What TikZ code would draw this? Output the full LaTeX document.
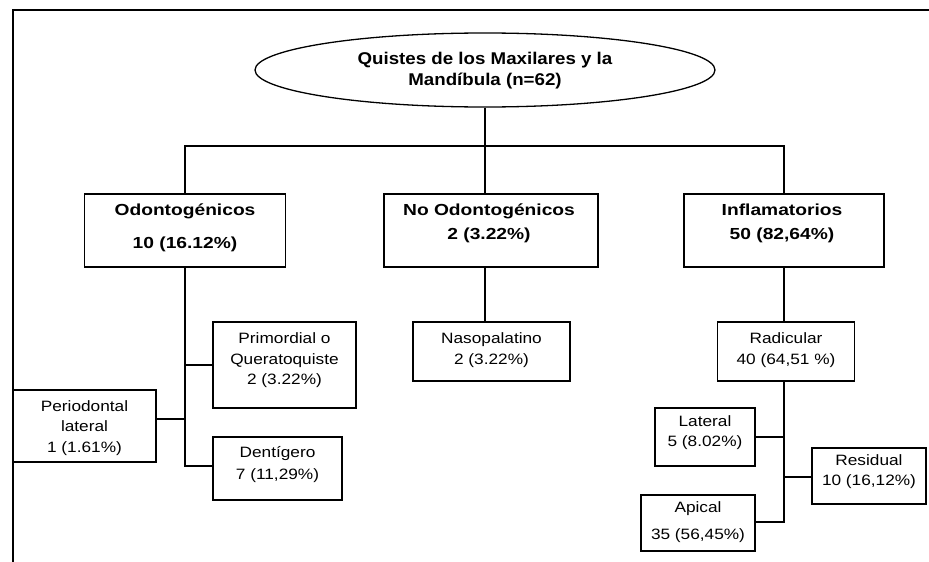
\documentclass[tikz,border=0pt]{standalone}
\usepackage{fontspec}
\setmainfont{Liberation Sans}[FakeStretch=1.15]
\newfontfamily\titlefont{Liberation Sans}[FakeStretch=1.1]
\newfontfamily\headfont{Liberation Sans}[FakeStretch=1.2]
\usetikzlibrary{shapes.geometric}
\tikzset{
  frameline/.style={line width=2.4pt, black},
  conn/.style={line width=1.3pt, black},
  boxnode/.style={draw=black, line width=1.3pt, rectangle, inner sep=0pt, fill=white},
  headtxt/.style={align=center, inner sep=0pt, font=\headfont\bfseries\fontsize{16}{24}\selectfont},
  regtxt/.style={align=center, inner sep=0pt, font=\fontsize{15}{20.5}\selectfont},
  titletxt/.style={align=center, inner sep=0pt, font=\titlefont\bfseries\fontsize{17}{21}\selectfont}
}
\begin{document}
\begin{tikzpicture}[x=1pt,y=-1pt]
\useasboundingbox (0,0) rectangle (929,562);
\fill[white] (0,0) rectangle (929,562);
% frame
\draw[frameline] (929,10) -- (13,10) -- (13,562);

% title
\node[draw=black, line width=1.3pt, ellipse, minimum width=460pt, minimum height=74pt, inner sep=0pt] (title) at (485,70) {};
\node[titletxt] (titlet) at (485,70.5) {Quistes de los Maxilares y la\\Mandíbula (n=62)};

% level 1 boxes
\node[boxnode, minimum width=201pt, minimum height=73pt] (odo) at (185,230.5) {};
\node[headtxt] (odot) at (185,228) {Odontogénicos\\[9pt]10 (16.12\%)};
\node[boxnode, minimum width=214pt, minimum height=73pt] (noodo) at (491,230.5) {};
\node[headtxt] (noodot) at (489,223.5) {No Odontogénicos\\2 (3.22\%)};
\node[boxnode, minimum width=200pt, minimum height=73pt] (infl) at (784,230.5) {};
\node[headtxt] (inflt) at (782,223.5) {Inflamatorios\\50 (82,64\%)};

% level 2 boxes
\node[boxnode, minimum width=157pt, minimum height=59pt] (nasop) at (491.5,351.5) {};
\node[regtxt] (nasopt) at (491.5,350) {Nasopalatino\\2 (3.22\%)};
\node[boxnode, minimum width=137pt, minimum height=59pt] (radic) at (786,351.5) {};
\node[regtxt] (radict) at (786,350) {Radicular\\40 (64,51 \%)};

% odontogenic children
\node[boxnode, minimum width=143pt, minimum height=86pt] (prim) at (284.5,365) {};
\node[regtxt] (primt) at (284.5,360.5) {Primordial o\\Queratoquiste\\2 (3.22\%)};
\node[boxnode, minimum width=143pt, minimum height=72pt] (perio) at (84.5,426) {};
\node[regtxt] (periot) at (84.5,428) {Periodontal\\lateral\\1 (1.61\%)};
\node[boxnode, minimum width=129pt, minimum height=63pt] (dent) at (277.5,468.5) {};
\node[regtxt] (dentt) at (277.5,464.5) {Dentígero\\[1pt]7 (11,29\%)};

% radicular children
\node[boxnode, minimum width=100pt, minimum height=58pt] (lat) at (705,437) {};
\node[regtxt] (latt) at (705,432.5) {Lateral\\5 (8.02\%)};
\node[boxnode, minimum width=114pt, minimum height=56pt] (resid) at (869,476) {};
\node[regtxt] (residt) at (869,471.5) {Residual\\10 (16,12\%)};
\node[boxnode, minimum width=114pt, minimum height=56pt] (apical) at (698,523) {};
\node[regtxt] (apicalt) at (698,522) {Apical\\[6.5pt]35 (56,45\%)};

% connectors, top level
\coordinate (hub) at (485,146);
\draw[conn] (title.south) -- (hub);
\draw[conn] (odo.north) -- (odo.north |- hub) -- (infl.north |- hub) -- (infl.north);
\draw[conn] (hub) -- (hub |- noodo.north);

% no odontogenicos
\draw[conn] (hub |- noodo.south) -- (hub |- nasop.north);

% odontogenicos
\draw[conn] (odo.south) -- ([yshift=2.5pt]odo.south |- dent.west) -- ([yshift=2.5pt]dent.west);
\draw[conn] (prim.west) -- (prim.west -| odo.south);
\draw[conn] ([yshift=7pt]perio.east) -- ([yshift=7pt]perio.east -| odo.south);

% inflamatorios
\draw[conn] (infl.south) -- (infl.south |- radic.north);
\draw[conn] (infl.south |- radic.south) -- ([yshift=1pt]infl.south |- apical.east) -- ([yshift=1pt]apical.east);
\draw[conn] (lat.east) -- (lat.east -| infl.south);
\draw[conn] ([yshift=-1pt]resid.west) -- ([yshift=-1pt]resid.west -| infl.south);
\end{tikzpicture}
\end{document}
